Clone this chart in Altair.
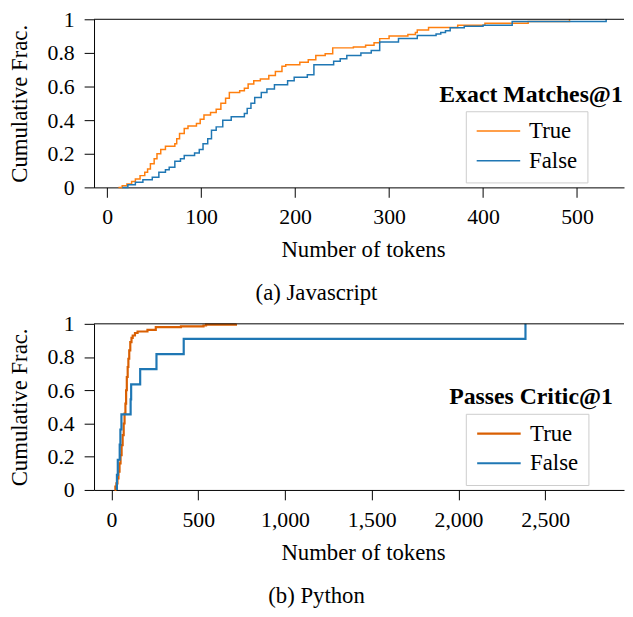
import altair as alt
import pandas as pd

FONT = "Liberation Serif"

# ---- (a) Javascript: step points of the empirical CDF (tokens, cumulative fraction)
js_true_tokens = [12, 16, 21, 26, 30, 35, 40, 43, 46, 50,
                  53, 57, 62, 72, 74, 77, 82, 86, 95, 99,
                  103, 110, 116, 121, 126, 130, 141, 146, 150, 156,
                  163, 172, 179, 186, 190, 205, 214, 222, 232, 240,
                  262, 275, 284, 290, 300, 320, 328, 330, 342, 373,
                  402, 448, 492]
js_true_frac = [0, 0.01, 0.02, 0.035, 0.05, 0.07, 0.09, 0.11, 0.14, 0.17,
                0.2, 0.225, 0.245, 0.26, 0.29, 0.32, 0.35, 0.365, 0.38, 0.405,
                0.43, 0.445, 0.465, 0.5, 0.53, 0.565, 0.575, 0.59, 0.615, 0.635,
                0.645, 0.665, 0.69, 0.72, 0.73, 0.745, 0.76, 0.785, 0.795, 0.83,
                0.835, 0.845, 0.86, 0.885, 0.9, 0.909, 0.922, 0.936, 0.951, 0.965,
                0.977, 0.987, 1.0]
js_false_tokens = [16, 22, 30, 38, 48, 55, 62, 66, 72, 78,
                   82, 93, 98, 102, 107, 111, 116, 123, 132, 146,
                   149, 153, 157, 164, 170, 178, 192, 199, 213, 220,
                   241, 248, 255, 270, 281, 290, 310, 330, 350, 355,
                   360, 365, 380, 400, 431, 531]
js_false_frac = [0, 0.015, 0.03, 0.045, 0.06, 0.09, 0.105, 0.12, 0.155, 0.17,
                 0.19, 0.205, 0.225, 0.26, 0.29, 0.34, 0.36, 0.4, 0.42, 0.44,
                 0.47, 0.5, 0.535, 0.565, 0.585, 0.61, 0.635, 0.655, 0.67, 0.73,
                 0.75, 0.765, 0.785, 0.8, 0.815, 0.865, 0.886, 0.903, 0.913, 0.922,
                 0.932, 0.95, 0.958, 0.965, 0.987, 1.0]

# ---- (b) Python
py_true_tokens = [17, 22, 28, 34, 40, 46, 52, 58, 64, 70,
                  75, 80, 84, 88, 93, 97, 102, 108, 115, 122,
                  135, 150, 207, 255, 400, 530, 545, 717]
py_true_frac = [0, 0.02, 0.04, 0.07, 0.11, 0.16, 0.21, 0.27, 0.33, 0.4,
                0.46, 0.52, 0.6, 0.68, 0.74, 0.79, 0.84, 0.89, 0.915, 0.93,
                0.945, 0.954, 0.964, 0.98, 0.985, 0.99, 0.995, 1.0]
py_false_tokens = [31, 31, 36, 47, 51, 57, 110, 113, 165, 259, 416, 2386]
py_false_frac = [0, 0.091, 0.182, 0.273, 0.364, 0.455, 0.545, 0.636, 0.727, 0.818, 0.909, 1.0]

series_labels = ["True", "False"]
js_colors = ["#ff7f0e", "#1f77b4"]
py_colors = ["#d95f02", "#1f77b4"]
js_x_ticks = [0, 100, 200, 300, 400, 500]
py_x_ticks = [0, 500, 1000, 1500, 2000, 2500]
y_ticks = [0, 0.2, 0.4, 0.6, 0.8, 1.0]


def frame(tt, tf, ft, ff):
    return pd.DataFrame({
        "tokens": tt + ft,
        "frac": tf + ff,
        "series": ["True"] * len(tt) + ["False"] * len(ft),
    })


def panel(df, colors, xdomain, xticks, xformat, legend_title, caption,
          height, stroke_w, legend_y, title_y):
    x = alt.X("tokens:Q",
              scale=alt.Scale(domain=xdomain, nice=False, zero=False),
              axis=alt.Axis(values=xticks, format=xformat, labelOverlap=False,
                            title="Number of tokens", titleX=272))
    y = alt.Y("frac:Q",
              scale=alt.Scale(domain=[0, 1], nice=False),
              axis=alt.Axis(values=y_ticks, title="Cumulative Frac.",
                            labelOverlap=False, labelBound=False, labelFlush=False,
                            labelExpr="datum.value == 0 ? '0' : datum.value == 1 ? '1' : format(datum.value, '.1f')"))
    lines = alt.Chart(df).mark_line(
        interpolate="step-after", strokeWidth=stroke_w
    ).encode(
        x=x,
        y=y,
        color=alt.Color(
            "series:N",
            scale=alt.Scale(domain=series_labels, range=colors),
            legend=alt.Legend(
                title=None, orient="none", legendX=376, legendY=legend_y,
                symbolType="stroke", symbolSize=1936, symbolStrokeWidth=stroke_w,
                clipHeight=20, rowPadding=7, padding=10,
                strokeColor="#cccccc", fillColor="white",
                labelFont=FONT, labelFontSize=23, labelColor="black", labelOffset=8,
            ),
        ),
        order=alt.Order("frac:Q"),
    )
    top = alt.Chart(pd.DataFrame({"frac": [1.0]})).mark_rule(
        color="black", strokeWidth=1
    ).encode(y=y)
    label = alt.Chart(pd.DataFrame({"t": [legend_title]})).mark_text(
        font=FONT, fontSize=24, fontWeight="bold", align="center",
        baseline="alphabetic", color="black"
    ).encode(text="t:N", x=alt.value(442), y=alt.value(title_y))
    return alt.layer(lines, top, label).properties(
        width=536, height=height,
        title=alt.TitleParams(caption, orient="bottom", frame="bounds",
                              anchor="middle", offset=21, fontSize=23,
                              font=FONT, fontWeight="normal", color="black"),
    )


top_panel = panel(frame(js_true_tokens, js_true_frac, js_false_tokens, js_false_frac),
                  js_colors, [-14, 550], js_x_ticks, "d", "Exact Matches@1",
                  "(a) Javascript", 170, 1.5, 93, 84)
bottom_panel = panel(frame(py_true_tokens, py_true_frac, py_false_tokens, py_false_frac),
                     py_colors, [-101, 2954], py_x_ticks, ",.0f", "Passes Critic@1",
                     "(b) Python", 168, 2.2, 91, 81)

chart = alt.vconcat(top_panel, bottom_panel, spacing=8).resolve_scale(
    color="independent", x="independent", y="independent"
).resolve_legend(color="independent").properties(
    padding={"left": 0, "top": -3, "right": 0, "bottom": 0}
).configure_axis(
    labelFont=FONT, titleFont=FONT, labelFontSize=22, titleFontSize=23,
    titleFontWeight="normal", labelColor="black", titleColor="black",
    tickColor="black", domainColor="black", tickSize=10, labelPadding=10,
    grid=False,
).configure_axisX(titlePadding=11).configure_axisY(titlePadding=16).configure_view(
    stroke=None
)

chart.save("out.html", embed_options={"renderer": "svg", "actions": False})
